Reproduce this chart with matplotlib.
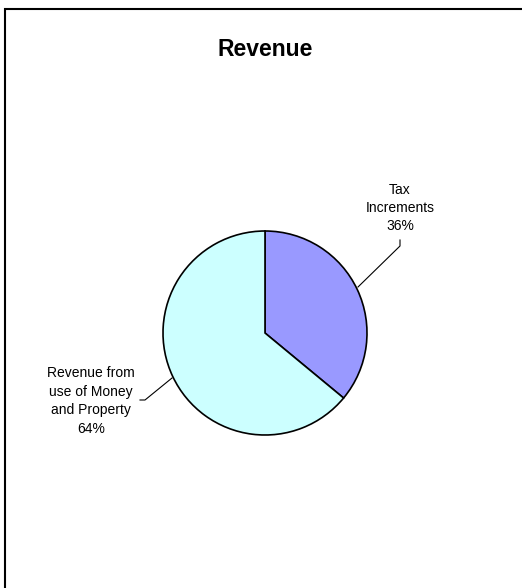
import matplotlib
matplotlib.use("Agg")
import matplotlib.pyplot as plt
from matplotlib.patches import Rectangle

plt.rcParams["font.family"] = ["Liberation Sans", "DejaVu Sans"]

TITLE = "Revenue"
CATEGORIES = ["Tax\nIncrements", "Revenue from\nuse of Money\nand Property"]
SHARES = [36, 64]
COLORS = ["#9999FF", "#CCFFFF"]

W, H = 522, 588

fig = plt.figure(figsize=(W / 100, H / 100), dpi=100)
ax = fig.add_axes([0, 0, 1, 1])

# frame of the chart area (runs off the right/bottom edge)
ax.add_patch(Rectangle((5, -20), W + 20, H - 9 + 20, fill=False,
                       edgecolor="black", linewidth=1.5))

ax.text(265, H - 50, TITLE, ha="center", va="center",
        fontsize=16.5, fontweight="bold")

cx, cy, r = 265, H - 333, 102
ax.pie(SHARES, colors=COLORS, startangle=90, counterclock=False,
       center=(cx, cy), radius=r, frame=True,
       wedgeprops=dict(edgecolor="black", linewidth=1.2))
ax.set_xlim(0, W)
ax.set_ylim(0, H)
ax.set_aspect("equal")
ax.axis("off")

total = sum(SHARES)
labels = [f"{c}\n{v / total:.0%}" for c, v in zip(CATEGORIES, SHARES)]

# data labels with leader lines
ax.text(400, H - 208, labels[0], ha="center", va="center",
        fontsize=10, linespacing=1.4)
ax.plot([400, 400, 358], [H - 240, H - 246, H - 287],
        color="black", linewidth=0.8)

ax.text(91, H - 401, labels[1], ha="center", va="center",
        fontsize=10, linespacing=1.4)
ax.plot([140, 145, 172], [H - 400, H - 400, H - 378],
        color="black", linewidth=0.8)

fig.savefig("out.png", dpi=100, facecolor="white")
